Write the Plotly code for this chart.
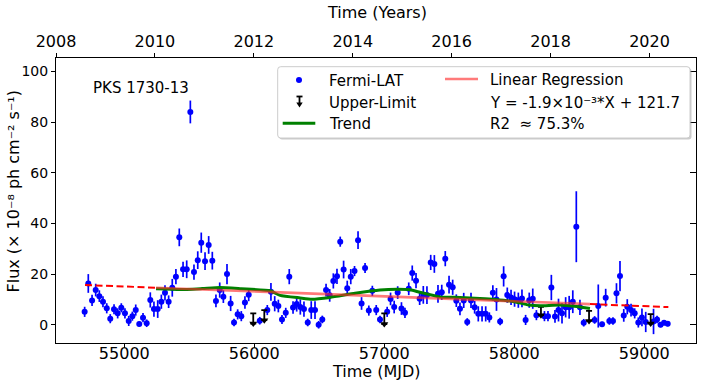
import plotly.graph_objects as go

# ---------------- data ----------------
mjd = [54695, 54723, 54752, 54780, 54808, 54836, 54865, 54892, 54921, 54949,
       54977, 55005, 55034, 55062, 55088, 55115, 55144, 55172, 55200, 55228,
       55257, 55285, 55313, 55341, 55369, 55397, 55423, 55452, 55480, 55508,
       55536, 55565, 55592, 55621, 55649, 55677, 55705, 55734, 55762, 55790,
       55818, 55844, 55872, 55900, 55928, 55957, 56042, 56100, 56128, 56157,
       56185, 56213, 56242, 56269, 56298, 56326, 56354, 56382, 56411, 56438,
       56467, 56495, 56523, 56552, 56580, 56608, 56636, 56661, 56687, 56715,
       56742, 56771, 56798, 56825, 56852, 56881, 56908, 56938, 56967, 57022,
       57048, 57076, 57103, 57132, 57159, 57188, 57215, 57244, 57272, 57300,
       57328, 57357, 57385, 57413, 57442, 57469, 57498, 57526, 57554, 57582,
       57611, 57638, 57667, 57695, 57723, 57752, 57780, 57808, 57835, 57863,
       57891, 57918, 57946, 57975, 58002, 58031, 58059, 58087, 58115, 58142,
       58170, 58232, 58259, 58285, 58313, 58340, 58367, 58395, 58422, 58450,
       58477, 58505, 58534, 58618, 58646, 58675, 58703, 58731, 58759, 58786,
       58813, 58842, 58869, 58898, 58926, 58954, 58982, 59011, 59071, 59098,
       59125, 59152, 59180]

flux = [5.1, 16.3, 9.6, 13.7, 11.3, 9.1, 6.5, 2.4, 6.1, 4.5,
        6.7, 4.5, 1.5, 3.4, 5.8, 0.3, 2.8, 0.6, 9.8, 6.2,
        6.2, 9.1, 12.6, 9.1, 14.6, 19.0, 34.5, 21.9, 21.9, 84.0,
        20.8, 25.5, 32.4, 25.1, 31.5, 25.3, 9.4, 13.7, 11.1, 20.0,
        8.4, 0.9, 4.1, 3.4, 8.8, 11.8, 1.6, 5.8, 13.0, 8.3,
        7.4, 2.1, 4.7, 19.0, 6.8, 8.2, 7.0, 6.2, 0.9, 5.8,
        5.8, 0.0, 2.1, 13.7, 11.6, 17.3, 19.1, 32.8, 21.8, 14.4,
        19.0, 21.2, 33.4, 8.4, 22.4, 5.6, 13.4, 5.8, 2.1, 5.1,
        10.2, 7.0, 12.7, 6.4, 4.7, 14.2, 20.4, 17.4, 10.3, 11.8,
        11.7, 24.6, 24.0, 12.2, 12.8, 26.1, 15.8, 14.8, 9.5, 6.3,
        9.6, 1.1, 9.6, 6.9, 4.3, 4.3, 4.3, 2.9, 12.6, 10.0,
        1.3, 19.1, 11.7, 10.8, 10.1, 9.7, 10.4, 1.9, 9.7, 10.3,
        3.8, 3.4, 3.4, 14.7, 3.3, 5.8, 4.5, 6.9, 6.9, 9.1,
        38.7, 6.9, 0.8, 1.9, 7.4, 0.2, 10.7, 1.5, 1.5, 12.4,
        19.2, 3.7, 7.1, 5.8, 4.5, 0.9, 2.9, 1.1, 1.3, 2.1,
        0.0, 0.8, 0.4]

flux_err = [2.0, 3.7, 2.2, 2.5, 2.3, 2.2, 2.0, 1.8, 2.0, 2.0,
            1.8, 2.0, 2.0, 1.8, 2.2, 1.0, 1.8, 1.5, 3.0, 3.0,
            3.5, 2.8, 3.0, 2.5, 3.5, 3.0, 3.5, 3.0, 3.5, 4.5,
            3.0, 3.5, 4.0, 3.5, 3.5, 3.5, 2.5, 3.0, 2.5, 4.0,
            3.0, 1.5, 2.0, 2.0, 2.5, 2.5, 1.5, 2.0, 3.5, 3.0,
            2.5, 1.8, 2.0, 3.0, 2.5, 3.0, 3.0, 3.0, 1.5, 3.5,
            3.5, 1.5, 1.5, 2.5, 2.5, 3.0, 3.0, 2.0, 3.5, 3.0,
            3.0, 2.0, 3.5, 2.5, 2.0, 2.0, 2.0, 2.0, 1.5, 2.0,
            2.5, 2.5, 2.5, 2.5, 2.0, 2.5, 3.0, 3.0, 2.5, 3.5,
            3.5, 3.0, 3.5, 3.5, 3.0, 3.0, 3.5, 3.0, 2.5, 2.5,
            3.0, 1.5, 3.0, 2.5, 3.0, 3.0, 3.0, 2.0, 3.0, 4.5,
            1.5, 4.0, 3.0, 3.0, 3.0, 3.0, 3.5, 2.0, 3.0, 4.0,
            2.0, 2.0, 2.0, 5.0, 2.5, 4.5, 4.0, 4.0, 4.5, 4.5,
            14.0, 3.0, 1.5, 1.5, 8.5, 1.0, 3.5, 1.5, 1.5, 4.0,
            6.0, 2.5, 3.0, 2.5, 2.0, 2.0, 3.5, 4.0, 5.0, 1.5,
            1.0, 1.0, 1.0]

assert len(mjd) == len(flux) == len(flux_err)

# upper limits: value (top cap) and arrow length
ul_mjd = [55992, 56077, 57000, 58205, 58575, 59049]
ul_value = [4.5, 5.8, 4.5, 7.1, 5.5, 4.2]
ul_arrow = [4.0, 4.0, 4.2, 3.3, 4.0, 3.7]

# smoothed trend
trend_mjd = [55244, 55430, 55600, 55736, 55900, 56121, 56198, 56352, 56444,
             56582, 56775, 56967, 57098, 57200, 57274, 57428, 57582, 57736,
             57852, 57990, 58110, 58198, 58351, 58480, 58582]
trend_flux = [14.2, 13.9, 14.3, 14.7, 14.2, 13.4, 11.6, 10.6, 10.1,
              10.8, 12.4, 13.7, 14.0, 13.8, 12.8, 11.0, 10.8, 10.4,
              10.0, 9.2, 7.8, 7.5, 7.8, 7.2, 6.4]

# linear regression (as drawn)
reg_slope = -1.94e-3
reg_intercept = 121.8
reg_fit_span = [55244, 58582]
reg_extrap_left = [54698, 55244]
reg_extrap_right = [58582, 59185]

x_range = [54474.6, 59397.7]
y_range = [-7.2, 105.3]
year_range = [2008.0, 2020.94]
x_ticks = [55000, 56000, 57000, 58000, 59000]
year_ticks = [2008, 2010, 2012, 2014, 2016, 2018, 2020]
y_ticks = [0, 20, 40, 60, 80, 100]

x_title = "Time (MJD)"
x2_title = "Time (Years)"
y_title = "Flux (× 10⁻⁸ ph cm⁻² s⁻¹)"

FONT = "DejaVu Sans"
W, H = 701, 383
L, R, T, B = 56, 696, 58, 343   # plot area in pixels


def reg(x):
    return reg_slope * x + reg_intercept


def px(x):
    return (x - L) / (R - L)


def py(y):
    return (B - y) / (B - T)


fig = go.Figure()

# Fermi-LAT points
fig.add_trace(go.Scatter(
    x=mjd, y=flux, mode="markers",
    marker=dict(color="#0000ff", size=6),
    error_y=dict(type="data", array=flux_err, color="#0000ff",
                 thickness=1.7, width=0),
    showlegend=False, name="Fermi-LAT"))

# Upper limits: arrow tip at bottom, bar up to the limit with cap
fig.add_trace(go.Scatter(
    x=ul_mjd, y=[v - a for v, a in zip(ul_value, ul_arrow)], mode="markers",
    marker=dict(color="black", size=7, symbol="triangle-down"),
    error_y=dict(type="data", symmetric=False, array=ul_arrow,
                 arrayminus=[0] * len(ul_arrow), color="black",
                 thickness=1.8, width=3),
    showlegend=False, name="Upper-Limit"))

# Trend
fig.add_trace(go.Scatter(
    x=trend_mjd, y=trend_flux, mode="lines",
    line=dict(color="#008000", width=3, shape="spline", smoothing=0.5),
    showlegend=False, name="Trend"))

# Regression: solid over fit span, dashed extrapolations
fig.add_trace(go.Scatter(
    x=reg_fit_span, y=[reg(v) for v in reg_fit_span], mode="lines",
    line=dict(color="rgba(255,40,40,0.62)", width=2.6),
    showlegend=False, name="Linear Regression"))
for seg in (reg_extrap_left, reg_extrap_right):
    fig.add_trace(go.Scatter(
        x=seg, y=[reg(v) for v in seg], mode="lines",
        line=dict(color="#ff0000", width=2, dash="7px,3.5px"),
        showlegend=False, hoverinfo="skip"))

# invisible trace on top (years) axis / right axis
fig.add_trace(go.Scatter(x=year_range, y=y_range, xaxis="x2", yaxis="y2",
                         mode="markers", marker=dict(opacity=0),
                         showlegend=False, hoverinfo="skip"))

axis_common = dict(showgrid=False, zeroline=False, showline=True,
                   linecolor="black", linewidth=1, mirror=False,
                   ticks="outside", ticklen=4, tickwidth=1, tickcolor="black")

fig.update_layout(
    width=W, height=H,
    margin=dict(l=L, r=W - R, t=T, b=H - B, pad=0),
    paper_bgcolor="white", plot_bgcolor="white",
    font=dict(family=FONT, color="black", size=15),
    xaxis=dict(range=x_range, tickvals=x_ticks, ticktext=[str(v) for v in x_ticks],
               tickfont=dict(size=16), ticklabelstandoff=-8,
               automargin=False, **axis_common),
    yaxis=dict(range=y_range, tickvals=y_ticks, tickfont=dict(size=14),
               automargin=False, **axis_common),
    xaxis2=dict(range=year_range, overlaying="x", side="top", anchor="y",
                tickvals=year_ticks, tickfont=dict(size=16),
                automargin=False, **axis_common),
    yaxis2=dict(range=y_range, overlaying="y", side="right", anchor="x",
                tickvals=y_ticks, showticklabels=False, showgrid=False,
                zeroline=False, showline=True, linecolor="black", linewidth=1,
                ticks="inside", ticklen=6, tickwidth=1, tickcolor="black",
                automargin=False),
)

# ---------------- legend (drawn by hand to mimic the two-column box) ----------------
lx0, ly0, lx1, ly1 = 277.7, 66.7, 690.0, 138.0
rr = 3


def rounded(x0, y0, x1, y1, r):
    X0, X1 = px(x0), px(x1)
    Y0, Y1 = py(y0), py(y1)
    rx = r / (R - L)
    ry = r / (B - T)
    return (f"M {X0+rx},{Y0} L {X1-rx},{Y0} Q {X1},{Y0} {X1},{Y0-ry} "
            f"L {X1},{Y1+ry} Q {X1},{Y1} {X1-rx},{Y1} L {X0+rx},{Y1} "
            f"Q {X0},{Y1} {X0},{Y1+ry} L {X0},{Y0-ry} Q {X0},{Y0} {X0+rx},{Y0} Z")


shapes = []
shapes.append(dict(type="path", xref="paper", yref="paper",
                   path=rounded(lx0 + 1.5, ly0 + 1.5, lx1 + 1.5, ly1 + 1.5, rr),
                   fillcolor="rgba(140,140,140,0.45)", line=dict(width=0)))
shapes.append(dict(type="path", xref="paper", yref="paper",
                   path=rounded(lx0, ly0, lx1, ly1, rr),
                   fillcolor="white", line=dict(color="#cccccc", width=1)))
# Fermi dot
shapes.append(dict(type="circle", xref="paper", yref="paper",
                   x0=px(299 - 3), x1=px(299 + 3), y0=py(80 + 3), y1=py(80 - 3),
                   fillcolor="#0000ff", line=dict(width=0)))
# Upper-limit glyph
shapes.append(dict(type="line", xref="paper", yref="paper",
                   x0=px(296.5), x1=px(302.5), y0=py(96.5), y1=py(96.5),
                   line=dict(color="black", width=1.8)))
shapes.append(dict(type="line", xref="paper", yref="paper",
                   x0=px(299.5), x1=px(299.5), y0=py(96.5), y1=py(104),
                   line=dict(color="black", width=1.8)))
shapes.append(dict(type="path", xref="paper", yref="paper",
                   path=f"M {px(296.3)},{py(102.5)} L {px(302.7)},{py(102.5)} L {px(299.5)},{py(107.5)} Z",
                   fillcolor="black", line=dict(width=0)))
# Trend line glyph
shapes.append(dict(type="line", xref="paper", yref="paper",
                   x0=px(282.7), x1=px(315.3), y0=py(123.3), y1=py(123.3),
                   line=dict(color="#008000", width=3)))
# Regression glyph
shapes.append(dict(type="line", xref="paper", yref="paper",
                   x0=px(445), x1=px(478), y0=py(79), y1=py(79),
                   line=dict(color="rgba(255,40,40,0.62)", width=2.6)))

legend_texts = [
    ("Fermi-LAT", 326.5, 81),
    ("Upper-Limit", 326.5, 102.5),
    ("Trend", 326.5, 124),
    ("Linear Regression", 488, 80),
    ("Y = -1.9×10⁻³*X + 121.7", 488, 102.5),
    ("R2  ≈ 75.3%", 488, 124.5),
]
annotations = []
for txt, x, y in legend_texts:
    annotations.append(dict(text=txt, xref="paper", yref="paper", x=px(x), y=py(y),
                            xanchor="left", yanchor="middle", showarrow=False,
                            font=dict(family=FONT, size=15, color="black")))
annotations.append(dict(text="PKS 1730-13", xref="paper", yref="paper",
                        x=px(141.3), y=py(87.5), xanchor="center", yanchor="middle",
                        showarrow=False, font=dict(family=FONT, size=15, color="black")))
# axis titles
annotations.append(dict(text=x_title, xref="paper", yref="paper",
                        x=px(376), y=py(371.5), xanchor="center", yanchor="middle",
                        showarrow=False, font=dict(family=FONT, size=16, color="black")))
annotations.append(dict(text=x2_title, xref="paper", yref="paper",
                        x=px(376.5), y=py(12.5), xanchor="center", yanchor="middle",
                        showarrow=False, font=dict(family=FONT, size=16, color="black")))
annotations.append(dict(text=y_title, xref="paper", yref="paper",
                        x=px(13), y=py(191.5), xanchor="center", yanchor="middle",
                        textangle=-90, showarrow=False,
                        font=dict(family=FONT, size=16, color="black")))

fig.update_layout(shapes=shapes, annotations=annotations)

# remove the browser's default 8px page margin so the figure fills the window
fig.write_html("out.html", config={"displayModeBar": False},
               post_script="document.body.style.margin='0px';")
